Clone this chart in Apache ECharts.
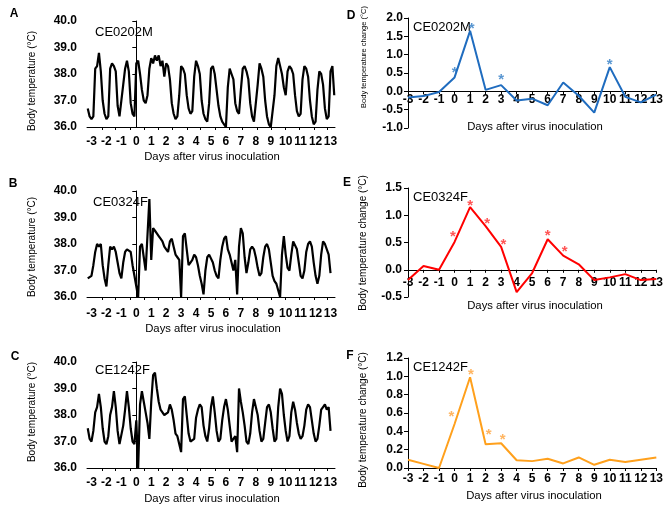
<!DOCTYPE html>
<html>
<head>
<meta charset="utf-8">
<script src="https://cdn.jsdelivr.net/npm/echarts@6/dist/echarts.min.js"></script>
<style>
    html, body { margin: 0; padding: 0; background: #fff; }
    #box { width: 666px; height: 509px; }
</style>
</head>
<body>
<div id="box"></div>
<script>
// ---- data ----
// left panels: continuous body temperature, one reading every 3 h starting at day -3.25
var TRACE_START = -3.25;
var TRACE_STEP = 0.125;

var tempA = [36.7, 36.4,
    36.3, 36.4, 38.2, 38.3, 38.8, 38.1, 37.0, 36.5,
    36.3, 36.4, 38.2, 38.4, 38.3, 38.1, 36.8, 36.4,
    36.4, 37.6, 38.2, 38.5, 38.1, 36.9, 36.5, 36.4,
    38.4, 38.5, 38.0, 37.4, 37.0, 36.9, 37.2, 38.2,
    38.6, 38.4, 38.7, 38.5, 38.7, 38.3, 38.5, 37.9,
    38.4, 38.3, 37.8, 36.9, 36.5, 36.3, 36.4, 37.2,
    38.3, 38.2, 38.0, 37.2, 36.7, 36.5, 36.6, 37.9,
    38.5, 38.3, 38.0, 37.0, 36.5, 36.3, 36.2, 36.9,
    38.2, 38.3, 38.0, 37.4, 36.8, 36.4, 36.2, 36.1,
    36.0, 37.5, 38.2, 38.0, 37.8, 36.9, 36.6, 36.5,
    37.4, 38.2, 38.3, 38.1, 37.8, 36.9, 36.4, 36.2,
    36.2, 37.6, 38.4, 38.2, 37.9, 37.0, 36.4, 36.1,
    36.0, 36.0, 37.2, 38.3, 38.6, 38.3, 38.0, 37.5,
    37.2, 38.1, 38.3, 38.2, 38.0, 37.2, 36.6, 36.4,
    36.5, 37.8, 38.3, 38.2, 37.9, 37.0, 36.4, 36.1,
    36.2, 37.4, 38.1, 38.0, 37.6, 36.7, 36.3, 36.4,
    38.1, 38.3, 37.2];

var tempB = [36.7, 36.7,
    36.8, 37.2, 37.7, 38.0, 37.9, 38.0, 37.2, 36.7,
    36.4, 37.2, 37.9, 37.8, 37.9, 37.7, 37.3, 36.9,
    36.7, 37.3, 37.7, 37.8, 37.8, 37.7, 37.2, 36.8,
    36.8, 36.0, 37.9, 38.0, 37.5, 37.0, 37.0, 39.7,
    37.4, 38.6, 38.5, 38.4, 38.3, 38.2, 38.1, 37.9,
    37.8, 37.7, 38.1, 38.2, 37.9, 37.6, 37.5, 37.4,
    36.0, 38.3, 38.4, 37.8, 37.2, 37.3, 37.4, 37.6,
    37.5, 37.2, 36.8, 36.5, 36.1, 37.0, 37.5, 37.6,
    37.6, 37.3, 37.0, 36.8, 36.7, 37.4, 37.9, 38.2,
    38.3, 37.8, 37.6, 37.3, 37.0, 37.4, 36.1, 37.9,
    38.6, 38.4, 37.5, 36.9, 37.3, 37.8, 37.9, 37.8,
    37.5, 37.1, 36.8, 36.9, 37.5, 37.9, 38.0, 37.8,
    37.3, 36.8, 36.6, 36.5, 36.5, 36.0, 37.6, 38.3,
    37.6, 37.1, 37.0, 37.6, 38.1, 38.1, 37.8, 37.3,
    36.8, 36.7, 37.0, 37.7, 38.0, 38.1, 37.9, 37.3,
    36.8, 36.5, 36.8, 37.6, 38.1, 38.0, 38.0, 37.6,
    36.9];

var tempC = [37.5, 37.1,
    37.0, 37.4, 38.1, 38.3, 38.8, 38.3, 37.5, 37.0,
    36.9, 37.2, 38.0, 38.3, 38.9, 38.3, 37.4, 36.9,
    36.9, 37.6, 38.2, 38.9, 38.3, 37.5, 37.0, 36.9,
    37.8, 36.0, 38.4, 38.9, 38.5, 38.1, 37.7, 37.1,
    38.5, 39.5, 39.6, 39.0, 38.5, 38.2, 38.1, 38.0,
    38.0, 38.1, 38.4, 38.2, 37.8, 37.3, 37.2, 37.2,
    36.6, 38.6, 38.7, 38.0, 37.3, 37.0, 37.0, 37.1,
    37.9, 38.2, 38.4, 38.3, 37.6, 37.2, 37.0, 37.5,
    38.3, 38.7, 38.1, 37.4, 37.0, 37.1, 37.8, 38.3,
    38.6, 38.2, 37.6, 37.0, 37.1, 37.2, 36.6, 39.0,
    38.5, 38.1, 37.6, 37.0, 36.9, 37.3, 38.1, 38.6,
    38.3, 38.0, 37.4, 37.0, 37.1, 37.7, 38.3, 38.4,
    38.1, 37.5, 37.0, 37.1, 38.3, 39.0, 38.8, 38.0,
    37.4, 37.0, 37.2, 38.1, 38.5, 38.2, 37.7, 37.3,
    37.1, 37.2, 37.6, 38.2, 38.4, 38.3, 37.8, 37.3,
    37.0, 37.1, 37.6, 38.2, 38.3, 38.4, 38.2, 38.3,
    37.4];

// right panels: daily change of body temperature
var days = [-3, -2, -1, 0, 1, 2, 3, 4, 5, 6, 7, 8, 9, 10, 11, 12, 13];
var changeD = [-0.17, -0.13, -0.02, 0.38, 1.65, 0.04, 0.17, -0.25, -0.2, -0.38, 0.24, -0.12, -0.58, 0.66, -0.15, -0.3, -0.09];
var changeE = [-0.19, 0.07, 0.0, 0.51, 1.15, 0.8, 0.42, -0.41, -0.06, 0.56, 0.26, 0.1, -0.19, -0.14, -0.08, -0.19, -0.17];
var changeF = [0.09, 0.045, 0.0, 0.48, 0.99, 0.26, 0.27, 0.085, 0.075, 0.1, 0.05, 0.115, 0.035, 0.09, 0.065, 0.09, 0.115];

// significance asterisks
var starDaysD = [0, 1.1, 3, 10];
var starValsD = [0.6, 1.82, 0.41, 0.83];
var starDaysE = [-0.1, 1, 2.1, 3.15, 6, 7.1];
var starValsE = [0.67, 1.25, 0.91, 0.53, 0.7, 0.41];
var starDaysF = [-0.2, 1.05, 2.2, 3.1];
var starValsF = [0.6, 1.06, 0.4, 0.35];

// tick marks of the left x axes
var leftTicks = [-2.3, -1.4, -0.4, 0.5, 1.5, 2.4, 3.4, 4.3, 5.3, 6.2, 7.1, 8.1, 9.0, 10.0, 10.9, 11.9, 12.8];

window.onload = function () {
    var FONT = '"Liberation Sans", Arial, sans-serif';
    var charts = echarts.init(document.getElementById('box'));

    function pairs(xs, ys) {
        return ys.map(function (v, i) { return [xs[i], v]; });
    }
    function trace(vals) {
        return vals.map(function (v, i) { return [TRACE_START + i * TRACE_STEP, v]; });
    }
    function lbl(margin) {
        return { margin: margin, fontSize: 12, fontWeight: 'bold', color: '#000', fontFamily: FONT };
    }

    //1. grids
    var grid = [
        { left: 87, width: 248, top: 21, height: 106 },
        { left: 87, width: 248, top: 191, height: 106 },
        { left: 87, width: 248, top: 362, height: 106 },
        { left: 408, width: 253, top: 18, height: 110 },
        { left: 408, width: 253, top: 188, height: 109 },
        { left: 408, width: 253, top: 358, height: 110 }
    ];

    //2. axes
    var xAxis = [], yAxis = [];
    var leftMargins = [9, 11, 9];
    for (var i = 0; i < 3; i++) {
        var l = lbl(leftMargins[i]);
        l.customValues = days;
        xAxis.push({
            gridIndex: i, type: 'value', min: -3.3, max: 13.3,
            axisLine: { lineStyle: { color: '#000', width: 1 } },
            axisTick: { customValues: leftTicks, length: 3, lineStyle: { color: '#000' } },
            axisLabel: l,
            splitLine: { show: false }
        });
        var yl = lbl(10);
        yl.formatter = function (v) { return v.toFixed(1); };
        yAxis.push({
            gridIndex: i, type: 'value', min: 36, max: 40, interval: 1,
            axisLine: { show: true, lineStyle: { color: '#000', width: 1 } },
            axisTick: { show: true, length: 4, lineStyle: { color: '#000' } },
            axisLabel: yl,
            splitLine: { show: false }
        });
    }
    // x axis of D and E sits on the zero line: shift it up from the grid bottom
    var rightX = [2, 7, 5];
    var rightXOffset = [-36.7, -27.2, 0];
    var rightY = [[-1, 2, 0.5, 5], [-0.5, 1.5, 0.5, 6], [0, 1.2, 0.2, 5]];
    for (var j = 0; j < 3; j++) {
        xAxis.push({
            gridIndex: 3 + j, type: 'value', min: -3, max: 13, interval: 1,
            offset: rightXOffset[j],
            axisLine: { onZero: false, lineStyle: { color: '#000', width: 1 } },
            axisTick: { length: 3, lineStyle: { color: '#000' } },
            axisLabel: lbl(rightX[j]),
            splitLine: { show: false }
        });
        var ry = lbl(rightY[j][3]);
        ry.formatter = function (v) { return v.toFixed(1); };
        yAxis.push({
            gridIndex: 3 + j, type: 'value', min: rightY[j][0], max: rightY[j][1], interval: rightY[j][2],
            axisLine: { show: true, onZero: false, lineStyle: { color: '#000', width: 1 } },
            axisTick: { show: true, length: 4, lineStyle: { color: '#000' } },
            axisLabel: ry,
            splitLine: { show: false }
        });
    }

    //3. series
    function line(idx, data, color, w) {
        return {
            type: 'line', xAxisIndex: idx, yAxisIndex: idx, data: data,
            showSymbol: false, lineStyle: { color: color, width: w }, itemStyle: { color: color },
            silent: true
        };
    }
    function stars(idx, data, color) {
        return {
            type: 'scatter', xAxisIndex: idx, yAxisIndex: idx, data: data,
            symbolSize: 0, silent: true,
            label: { show: true, formatter: '*', position: 'inside', offset: [0, 4],
                fontSize: 15, fontWeight: 'bold', color: color, fontFamily: FONT }
        };
    }
    var series = [
        line(0, trace(tempA), '#000', 2.2),
        line(1, trace(tempB), '#000', 2.2),
        line(2, trace(tempC), '#000', 2.2),
        line(3, pairs(days, changeD), '#1f6cbf', 2),
        line(4, pairs(days, changeE), '#ff0000', 2),
        line(5, pairs(days, changeF), '#ffa01c', 2),
        stars(3, pairs(starDaysD, starValsD), '#2f7cc6'),
        stars(4, pairs(starDaysE, starValsE), '#ff2a2a'),
        stars(5, pairs(starDaysF, starValsF), '#ffa23a')
    ];

    //4. texts
    function txt(s, x, y, size, weight, align, rot) {
        return {
            type: 'text', x: x, y: y, rotation: rot || 0, silent: true,
            style: { text: s, fill: '#000', fontSize: size, fontWeight: weight, fontFamily: FONT,
                textAlign: align, textVerticalAlign: 'middle' }
        };
    }
    var R = Math.PI / 2;
    var graphic = [
        txt('A', 14, 14, 12, 'bold', 'center'),
        txt('B', 13, 184, 12, 'bold', 'center'),
        txt('C', 15, 357, 12, 'bold', 'center'),
        txt('D', 351, 16, 12, 'bold', 'center'),
        txt('E', 347, 183, 12, 'bold', 'center'),
        txt('F', 350, 356, 12, 'bold', 'center'),
        txt('CE0202M', 95, 32, 13, 'normal', 'left'),
        txt('CE0324F', 93, 202, 13, 'normal', 'left'),
        txt('CE1242F', 95, 370, 13, 'normal', 'left'),
        txt('CE0202M', 413, 27, 13, 'normal', 'left'),
        txt('CE0324F', 413, 197, 13, 'normal', 'left'),
        txt('CE1242F', 413, 367, 13, 'normal', 'left'),
        txt('Days after virus inoculation', 212, 157, 11.3, 'normal', 'center'),
        txt('Days after virus inoculation', 213, 329, 11.3, 'normal', 'center'),
        txt('Days after virus inoculation', 212, 499, 11.3, 'normal', 'center'),
        txt('Days after virus inoculation', 535, 127, 11.3, 'normal', 'center'),
        txt('Days after virus inoculation', 535, 306, 11.3, 'normal', 'center'),
        txt('Days after virus inoculation', 534, 496, 11.3, 'normal', 'center'),
        txt('Body temperature (°C)', 32, 81, 10, 'normal', 'center', R),
        txt('Body temperature (°C)', 32, 247, 10, 'normal', 'center', R),
        txt('Body temperature (°C)', 32, 412, 10, 'normal', 'center', R),
        txt('Body temperature change (°C)', 364, 57, 7.5, 'normal', 'center', R),
        txt('Body temperature change (°C)', 363, 243, 10, 'normal', 'center', R),
        txt('Body temperature change (°C)', 363, 420, 10, 'normal', 'center', R)
    ];

    charts.setOption({
        animation: false,
        grid: grid,
        xAxis: xAxis,
        yAxis: yAxis,
        series: series,
        graphic: graphic
    });
};
</script>
</body>
</html>
